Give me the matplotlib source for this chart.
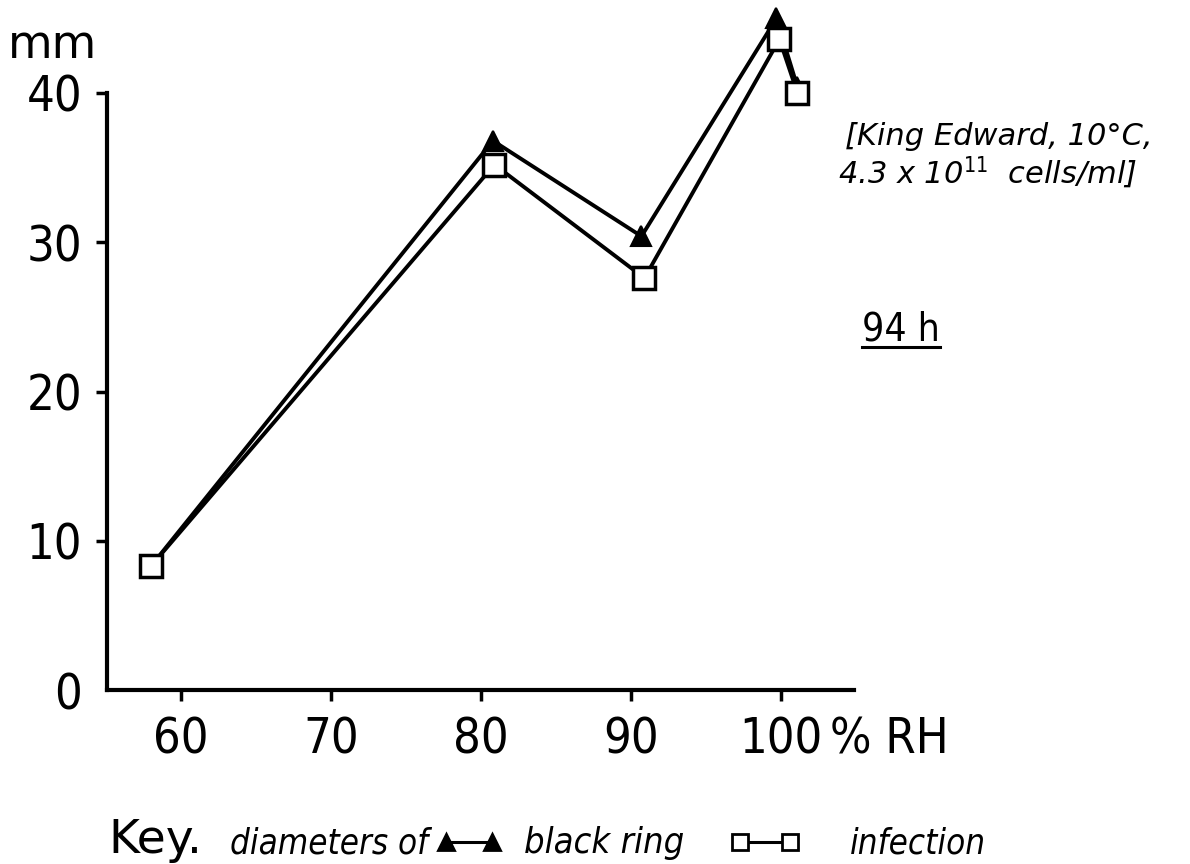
import matplotlib.pyplot as plt
from matplotlib.lines import Line2D

# diameters (mm) against relative humidity (%), 94 h
rh_ring = [58.0, 80.8, 90.7, 99.7, 101.1]
ring_mm = [8.3, 36.8, 30.4, 45.0, 40.4]
rh_infection = [58.0, 80.9, 90.9, 99.9, 101.1]
infection_mm = [8.3, 35.2, 27.6, 43.6, 40.0]

x_ticks = [60, 70, 80, 90, 100]
x_labels = ['60', '70', '80', '90', '100']
y_ticks = [0, 10, 20, 30, 40]
y_labels = ['0', '10', '20', '30', '40']

W, H = 1190, 864
plt.rcParams['font.family'] = ['DejaVu Sans']
plt.rcParams['font.stretch'] = 'condensed'
plt.rcParams['mathtext.fontset'] = 'dejavusans'
plt.rcParams['mathtext.default'] = 'it'

fig = plt.figure(figsize=(W / 100, H / 100), dpi=100)
ax = fig.add_axes([107 / W, 1 - 690 / H, (854 - 107) / W, (690 - 93) / H])

ax.plot(rh_ring, ring_mm, color='black', lw=2.8, marker='^', ms=15,
        mfc='black', mec='black', mew=1.5, clip_on=False, zorder=3)
ax.plot(rh_infection, infection_mm, color='black', lw=2.8, marker='s', ms=16,
        mfc='white', mec='black', mew=2.5, clip_on=False, zorder=4)

ax.set_xlim(55.07, 104.87)
ax.set_ylim(0, 40)
ax.set_xticks(x_ticks)
ax.set_xticklabels(x_labels)
ax.set_yticks(y_ticks)
ax.set_yticklabels(y_labels)
for side in ['top', 'right']:
    ax.spines[side].set_visible(False)
for side in ['left', 'bottom']:
    ax.spines[side].set_linewidth(3)
ax.tick_params(axis='both', direction='out', length=8, width=2.5,
               labelsize=35, pad=10)
ax.yaxis.get_major_ticks()[0].tick1line.set_visible(False)

# unit labels
fig.text(52 / W, 1 - 45 / H, 'mm', ha='center', va='center', fontsize=33,
         stretch='normal')
fig.text(830 / W, 1 - 740 / H, '% RH', ha='left', va='center', fontsize=35)

# condition note
fig.text(845 / W, 1 - 145 / H, '[King Edward, 10°C,', ha='left', va='baseline',
         fontsize=22, style='italic', stretch='normal')
fig.text(838 / W, 1 - 184 / H, r'4.3 x 10$^{11}$  cells/ml]', ha='left',
         va='baseline', fontsize=22, style='italic', stretch='normal')

# time label, underlined
t94 = fig.text(862 / W, 1 - 340 / H, '94 h', ha='left', va='baseline', fontsize=28)
fig.canvas.draw()
renderer = fig.canvas.get_renderer()
bb = t94.get_window_extent(renderer)
fig.add_artist(Line2D([bb.x0 / W, bb.x1 / W], [1 - 347 / H, 1 - 347 / H],
                      color='black', lw=2.2))

# key along the bottom
base = 853

def put(x, s, **kw):
    fig.text(x / W, 1 - base / H, s, ha='left', va='baseline', **kw)

def pair(x0, x1, marker, fc):
    ym = 1 - (base - 11) / H
    fig.add_artist(Line2D([x0 / W, x1 / W], [ym, ym], color='black', lw=2.2,
                          marker=marker, ms=11, mfc=fc, mec='black', mew=2))

put(108, 'Key.', fontsize=34, stretch='normal')
put(230, 'diameters of', fontsize=25, style='italic')
pair(446, 492, '^', 'black')
put(524, 'black ring', fontsize=26, style='italic')
pair(740, 790, 's', 'white')
put(850, 'infection', fontsize=25, style='italic')

fig.savefig('out.png', dpi=100)
